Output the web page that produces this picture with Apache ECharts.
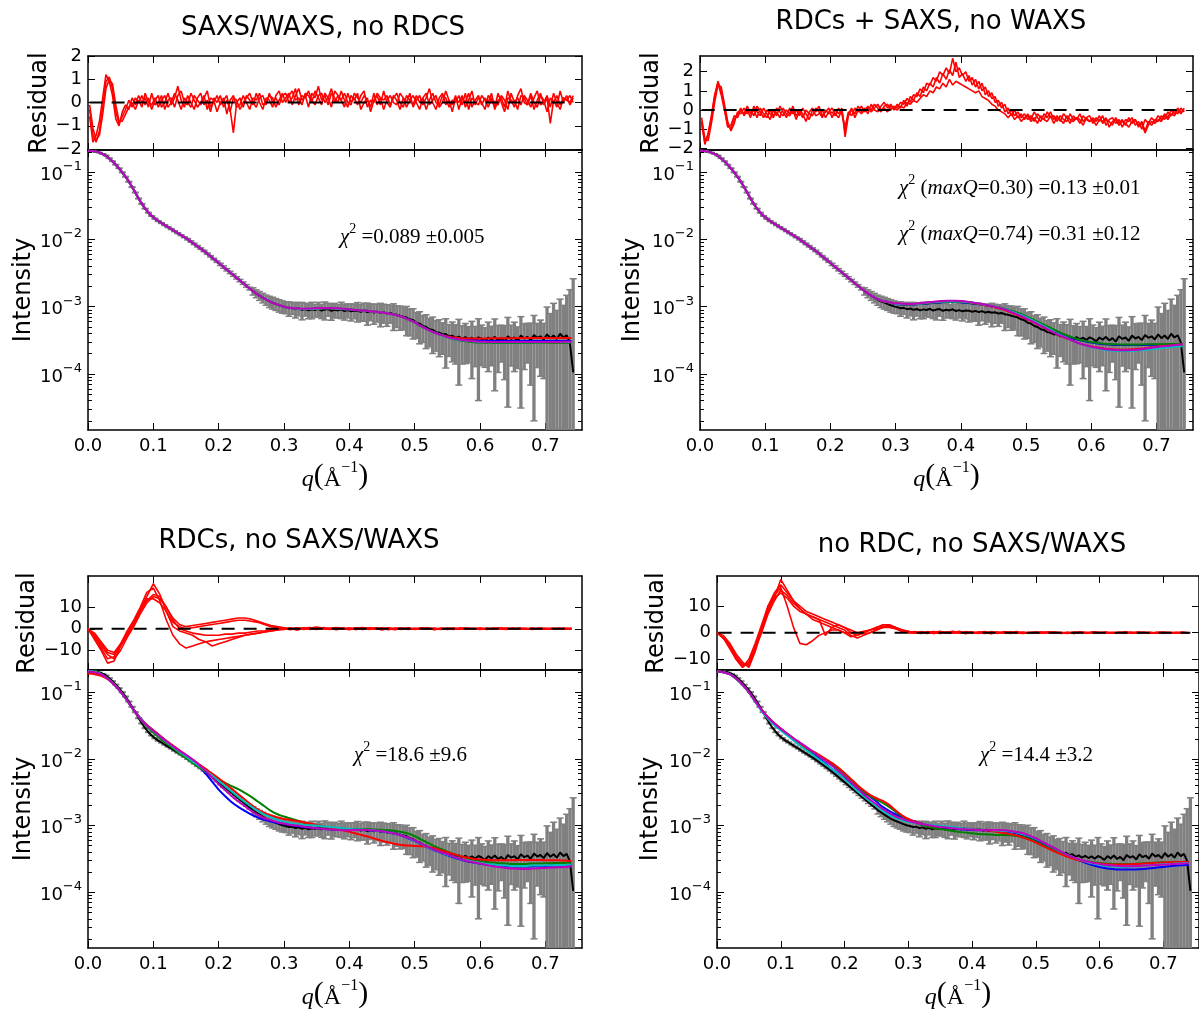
<!DOCTYPE html>
<html>
<head>
<meta charset="utf-8">
<title>SAXS/WAXS fits and residuals</title>
<script src="https://cdn.jsdelivr.net/npm/echarts@6.0.0/dist/echarts.min.js"></script>
<style>
  html, body { margin: 0; padding: 0; background: #ffffff; }
  #chart { width: 1199px; height: 1011px; }
</style>
</head>
<body>
<div id="chart"></div>
<script>
// ------------------------------------------------------------------
// Data
// ------------------------------------------------------------------

// Sampling grids of the scattering vector q (1/Å)
const qExp = Array.from({ length: 149 }, (_, i) => +(0.0025 + 0.005 * i).toFixed(4)); // measured points
const qFit = Array.from({ length: 75 }, (_, i) => +(0.01 * i).toFixed(2));            // back-calculated curves

// Measured intensity I(q)
const expIntensity = [
  0.209, 0.207, 0.202, 0.197, 0.188, 0.178, 0.162, 0.146, 0.130, 0.115,
  0.100, 0.0861, 0.0724, 0.0603, 0.0501, 0.0407, 0.0339, 0.0288, 0.0251, 0.0224,
  0.0204, 0.0188, 0.0176, 0.0164, 0.0153, 0.0143, 0.0133, 0.0124, 0.0116, 0.0108,
  0.0101, 0.00933, 0.00861, 0.00794, 0.00733, 0.00676, 0.00617, 0.00562, 0.00513, 0.00468,
  0.00427, 0.00389, 0.00355, 0.00324, 0.00295, 0.00269, 0.00245, 0.00224, 0.00204, 0.00186,
  0.00170, 0.00157, 0.00146, 0.00136, 0.00127, 0.00120, 0.00115, 0.00110, 0.00105, 0.00101,
  0.000985, 0.000950, 0.000962, 0.000918, 0.000940, 0.000897, 0.000925, 0.000881, 0.000912, 0.000894,
  0.000930, 0.000876, 0.000905, 0.000921, 0.000868, 0.000899, 0.000880, 0.000914, 0.000862, 0.000889,
  0.000853, 0.000880, 0.000871, 0.000842, 0.000866, 0.000830, 0.000858, 0.000818, 0.000840, 0.000812,
  0.000826, 0.000790, 0.000808, 0.000772, 0.000760, 0.000735, 0.000712, 0.000690, 0.000648, 0.000630,
  0.000578, 0.000560, 0.000515, 0.000498, 0.000462, 0.000451, 0.000418, 0.000410, 0.000386, 0.000392,
  0.000362, 0.000371, 0.000340, 0.000358, 0.000330, 0.000352, 0.000326, 0.000345, 0.000318, 0.000350,
  0.000332, 0.000305, 0.000348, 0.000322, 0.000356, 0.000315, 0.000340, 0.000302, 0.000362, 0.000331,
  0.000348, 0.000310, 0.000371, 0.000336, 0.000355, 0.000318, 0.000380, 0.000344, 0.000362, 0.000325,
  0.000388, 0.000340, 0.000372, 0.000330, 0.000395, 0.000348, 0.000376, 0.000290, 0.000105
];

// Experimental uncertainty sigma(q)
const expError = [
  0.00105, 0.00104, 0.00101, 0.00099, 0.00094, 0.00089, 0.00081, 0.00073, 0.00065, 0.00058,
  0.00100, 0.00086, 0.00072, 0.00060, 0.00050, 0.00041, 0.00034, 0.00029, 0.00025, 0.00022,
  0.00031, 0.00028, 0.00026, 0.00025, 0.00023, 0.00021, 0.00020, 0.00019, 0.00017, 0.00016,
  0.00025, 0.00023, 0.00022, 0.00020, 0.00018, 0.00017, 0.00015, 0.00014, 0.00013, 0.00012,
  0.00017, 0.00016, 0.00014, 0.00013, 0.00012, 0.00011, 0.00010, 0.000095, 0.000090, 0.000085,
  0.00021, 0.00021, 0.00022, 0.00022, 0.00022, 0.00023, 0.00023, 0.00022, 0.00022, 0.00021,
  0.00020, 0.00023, 0.00019, 0.00024, 0.00021, 0.00026, 0.00020, 0.00022, 0.00025, 0.00019,
  0.00023, 0.00021, 0.00027, 0.00020, 0.00024, 0.00022, 0.00019, 0.00025, 0.00023, 0.00021,
  0.00024, 0.00022, 0.00028, 0.00023, 0.00026, 0.00030, 0.00024, 0.00027, 0.00025, 0.00031,
  0.00026, 0.00028, 0.00024, 0.00033, 0.00027, 0.00029, 0.00026, 0.00032, 0.00028, 0.00030,
  0.00024, 0.00028, 0.00022, 0.00026, 0.00021, 0.00025, 0.00020, 0.00023, 0.00019, 0.00027,
  0.00018, 0.00022, 0.00020, 0.00029, 0.00019, 0.00021, 0.00018, 0.00026, 0.00019, 0.00031,
  0.00020, 0.00018, 0.00024, 0.00019, 0.00030, 0.00021, 0.00019, 0.00022, 0.00033, 0.00020,
  0.00024, 0.00019, 0.00034, 0.00022, 0.00021, 0.00025, 0.00036, 0.00022, 0.00027, 0.00024,
  0.00060, 0.00045, 0.00075, 0.00055, 0.00090, 0.00070, 0.00110, 0.00150, 0.00250
];

// Back-calculated curves, stored as log10 I(q) on the qFit grid.
// Panel A: SAXS/WAXS, no RDCs
const fitA_b = [
  -0.678,-0.686,-0.714,-0.775,-0.860,-0.970,-1.100,-1.260,-1.430,-1.570,
  -1.670,-1.740,-1.800,-1.860,-1.920,-1.980,-2.050,-2.120,-2.190,-2.270,
  -2.350,-2.430,-2.510,-2.590,-2.670,-2.750,-2.820,-2.880,-2.930,-2.970,
  -3.000,-3.020,-3.030,-3.035,-3.035,-3.030,-3.025,-3.025,-3.030,-3.035,
  -3.040,-3.050,-3.055,-3.065,-3.075,-3.085,-3.100,-3.120,-3.150,-3.190,
  -3.235,-3.290,-3.340,-3.385,-3.420,-3.445,-3.468,-3.482,-3.492,-3.500,
  -3.505,-3.508,-3.510,-3.511,-3.512,-3.512,-3.512,-3.512,-3.511,-3.511,
  -3.510,-3.510,-3.510,-3.509,-3.509
];
const fitA_g = [
  -0.678,-0.686,-0.714,-0.775,-0.860,-0.970,-1.100,-1.260,-1.430,-1.570,
  -1.670,-1.740,-1.800,-1.860,-1.920,-1.980,-2.050,-2.120,-2.190,-2.270,
  -2.350,-2.430,-2.510,-2.590,-2.670,-2.750,-2.820,-2.880,-2.930,-2.970,
  -3.000,-3.020,-3.030,-3.035,-3.035,-3.030,-3.025,-3.025,-3.030,-3.035,
  -3.040,-3.050,-3.055,-3.065,-3.075,-3.085,-3.100,-3.120,-3.150,-3.190,
  -3.235,-3.290,-3.340,-3.385,-3.420,-3.456,-3.484,-3.503,-3.518,-3.528,
  -3.534,-3.537,-3.539,-3.540,-3.540,-3.540,-3.540,-3.539,-3.539,-3.538,
  -3.538,-3.537,-3.537,-3.536,-3.535
];
const fitA_r = [
  -0.678,-0.686,-0.714,-0.775,-0.860,-0.970,-1.100,-1.260,-1.430,-1.570,
  -1.670,-1.740,-1.800,-1.860,-1.920,-1.980,-2.050,-2.120,-2.190,-2.270,
  -2.350,-2.430,-2.510,-2.590,-2.670,-2.750,-2.820,-2.880,-2.930,-2.970,
  -3.000,-3.020,-3.030,-3.035,-3.035,-3.030,-3.025,-3.025,-3.030,-3.035,
  -3.040,-3.050,-3.055,-3.065,-3.075,-3.085,-3.100,-3.120,-3.150,-3.190,
  -3.235,-3.290,-3.340,-3.385,-3.420,-3.441,-3.460,-3.468,-3.472,-3.474,
  -3.473,-3.472,-3.470,-3.469,-3.468,-3.468,-3.467,-3.467,-3.467,-3.466,
  -3.466,-3.466,-3.465,-3.465,-3.465
];
const fitA_c = [
  -0.678,-0.686,-0.714,-0.775,-0.860,-0.970,-1.100,-1.260,-1.430,-1.570,
  -1.670,-1.740,-1.800,-1.860,-1.920,-1.980,-2.050,-2.120,-2.190,-2.270,
  -2.350,-2.430,-2.510,-2.590,-2.670,-2.750,-2.820,-2.880,-2.930,-2.970,
  -3.000,-3.020,-3.030,-3.035,-3.035,-3.030,-3.025,-3.025,-3.030,-3.035,
  -3.040,-3.050,-3.055,-3.065,-3.075,-3.085,-3.100,-3.120,-3.150,-3.190,
  -3.235,-3.290,-3.340,-3.385,-3.420,-3.454,-3.480,-3.497,-3.509,-3.518,
  -3.524,-3.527,-3.529,-3.530,-3.530,-3.530,-3.530,-3.529,-3.529,-3.528,
  -3.528,-3.527,-3.527,-3.526,-3.526
];
const fitA_m = [
  -0.678,-0.686,-0.714,-0.775,-0.860,-0.970,-1.100,-1.260,-1.430,-1.570,
  -1.670,-1.740,-1.800,-1.860,-1.920,-1.980,-2.050,-2.120,-2.190,-2.270,
  -2.350,-2.430,-2.510,-2.590,-2.670,-2.750,-2.820,-2.880,-2.930,-2.970,
  -3.000,-3.020,-3.028,-3.030,-3.028,-3.022,-3.018,-3.020,-3.025,-3.032,
  -3.040,-3.050,-3.055,-3.065,-3.075,-3.085,-3.100,-3.120,-3.150,-3.190,
  -3.235,-3.290,-3.340,-3.385,-3.420,-3.450,-3.475,-3.492,-3.505,-3.515,
  -3.521,-3.524,-3.526,-3.527,-3.527,-3.527,-3.527,-3.526,-3.526,-3.525,
  -3.525,-3.524,-3.524,-3.523,-3.523
];

// Panel B: RDCs + SAXS, no WAXS
const fitB_b = [
  -0.678,-0.686,-0.714,-0.775,-0.860,-0.970,-1.100,-1.260,-1.430,-1.570,
  -1.670,-1.740,-1.800,-1.860,-1.920,-1.980,-2.050,-2.120,-2.190,-2.270,
  -2.350,-2.430,-2.510,-2.590,-2.670,-2.750,-2.820,-2.875,-2.915,-2.935,
  -2.959,-2.967,-2.971,-2.967,-2.959,-2.951,-2.943,-2.936,-2.932,-2.932,
  -2.936,-2.943,-2.955,-2.967,-2.983,-3.000,-3.020,-3.046,-3.081,-3.119,
  -3.161,-3.204,-3.250,-3.297,-3.342,-3.387,-3.426,-3.462,-3.492,-3.516,
  -3.535,-3.548,-3.559,-3.565,-3.570,-3.572,-3.572,-3.572,-3.570,-3.569,
  -3.567,-3.565,-3.564,-3.562,-3.561
];
const fitB_g = [
  -0.678,-0.686,-0.714,-0.775,-0.860,-0.970,-1.100,-1.260,-1.430,-1.570,
  -1.670,-1.740,-1.800,-1.860,-1.920,-1.980,-2.050,-2.120,-2.190,-2.270,
  -2.350,-2.430,-2.510,-2.590,-2.670,-2.750,-2.820,-2.875,-2.915,-2.935,
  -2.955,-2.963,-2.967,-2.963,-2.955,-2.947,-2.939,-2.932,-2.928,-2.928,
  -2.932,-2.939,-2.951,-2.963,-2.979,-2.996,-3.014,-3.036,-3.067,-3.102,
  -3.143,-3.187,-3.233,-3.280,-3.328,-3.375,-3.417,-3.453,-3.484,-3.509,
  -3.527,-3.541,-3.551,-3.558,-3.561,-3.562,-3.562,-3.562,-3.561,-3.559,
  -3.558,-3.558,-3.556,-3.556,-3.554
];
const fitB_r = [
  -0.678,-0.686,-0.714,-0.775,-0.860,-0.970,-1.100,-1.260,-1.430,-1.570,
  -1.670,-1.740,-1.800,-1.860,-1.920,-1.980,-2.050,-2.120,-2.190,-2.270,
  -2.350,-2.430,-2.510,-2.590,-2.670,-2.750,-2.820,-2.875,-2.915,-2.935,
  -2.951,-2.959,-2.963,-2.959,-2.947,-2.939,-2.928,-2.921,-2.917,-2.917,
  -2.921,-2.932,-2.947,-2.963,-2.983,-3.004,-3.029,-3.060,-3.098,-3.138,
  -3.182,-3.226,-3.276,-3.324,-3.373,-3.423,-3.462,-3.502,-3.541,-3.569,
  -3.592,-3.609,-3.623,-3.633,-3.638,-3.640,-3.636,-3.631,-3.622,-3.609,
  -3.595,-3.585,-3.577,-3.569,-3.562
];
const fitB_c = [
  -0.678,-0.686,-0.714,-0.775,-0.860,-0.970,-1.100,-1.260,-1.430,-1.570,
  -1.670,-1.740,-1.800,-1.860,-1.920,-1.980,-2.050,-2.120,-2.190,-2.270,
  -2.350,-2.430,-2.510,-2.590,-2.670,-2.750,-2.820,-2.875,-2.915,-2.935,
  -2.955,-2.959,-2.963,-2.959,-2.951,-2.939,-2.932,-2.924,-2.921,-2.921,
  -2.924,-2.932,-2.943,-2.959,-2.975,-2.996,-3.018,-3.043,-3.078,-3.116,
  -3.159,-3.204,-3.254,-3.305,-3.357,-3.409,-3.453,-3.498,-3.541,-3.575,
  -3.602,-3.623,-3.640,-3.652,-3.658,-3.660,-3.658,-3.654,-3.646,-3.636,
  -3.625,-3.614,-3.604,-3.595,-3.588
];
const fitB_m = [
  -0.678,-0.686,-0.714,-0.775,-0.860,-0.970,-1.100,-1.260,-1.430,-1.570,
  -1.670,-1.740,-1.800,-1.860,-1.920,-1.980,-2.050,-2.120,-2.190,-2.270,
  -2.350,-2.430,-2.510,-2.590,-2.670,-2.750,-2.820,-2.875,-2.915,-2.935,
  -2.950,-2.955,-2.960,-2.955,-2.945,-2.935,-2.925,-2.915,-2.910,-2.910,
  -2.915,-2.925,-2.940,-2.955,-2.975,-2.995,-3.020,-3.050,-3.090,-3.130,
  -3.175,-3.220,-3.270,-3.320,-3.370,-3.420,-3.460,-3.500,-3.540,-3.570,
  -3.595,-3.615,-3.630,-3.640,-3.645,-3.650,-3.645,-3.640,-3.630,-3.615,
  -3.600,-3.590,-3.580,-3.570,-3.560
];

// Panel C: RDCs, no SAXS/WAXS
const fitC_b = [
  -0.690,-0.700,-0.730,-0.795,-0.885,-0.995,-1.125,-1.265,-1.385,-1.490,
  -1.575,-1.655,-1.735,-1.810,-1.880,-1.950,-2.030,-2.120,-2.220,-2.340,
  -2.460,-2.560,-2.650,-2.720,-2.780,-2.835,-2.880,-2.915,-2.940,-2.960,
  -2.975,-2.990,-3.005,-3.020,-3.030,-3.040,-3.050,-3.055,-3.060,-3.065,
  -3.065,-3.065,-3.065,-3.070,-3.080,-3.090,-3.105,-3.125,-3.155,-3.190,
  -3.230,-3.280,-3.330,-3.370,-3.410,-3.445,-3.480,-3.510,-3.535,-3.555,
  -3.570,-3.585,-3.595,-3.605,-3.610,-3.615,-3.615,-3.615,-3.610,-3.610,
  -3.605,-3.600,-3.600,-3.595,-3.590
];
const fitC_g = [
  -0.680,-0.690,-0.725,-0.790,-0.880,-0.990,-1.125,-1.275,-1.405,-1.515,
  -1.610,-1.690,-1.770,-1.840,-1.920,-1.990,-2.060,-2.130,-2.190,-2.250,
  -2.310,-2.360,-2.410,-2.455,-2.510,-2.570,-2.640,-2.710,-2.780,-2.830,
  -2.865,-2.895,-2.925,-2.955,-2.980,-3.000,-3.020,-3.035,-3.050,-3.055,
  -3.060,-3.060,-3.055,-3.055,-3.060,-3.065,-3.070,-3.080,-3.095,-3.120,
  -3.160,-3.210,-3.260,-3.310,-3.350,-3.390,-3.430,-3.460,-3.490,-3.510,
  -3.530,-3.545,-3.555,-3.565,-3.570,-3.575,-3.575,-3.575,-3.570,-3.570,
  -3.565,-3.565,-3.560,-3.560,-3.555
];
const fitC_r = [
  -0.720,-0.730,-0.755,-0.805,-0.885,-0.995,-1.130,-1.270,-1.390,-1.490,
  -1.570,-1.650,-1.730,-1.800,-1.870,-1.940,-2.010,-2.080,-2.150,-2.220,
  -2.290,-2.370,-2.450,-2.530,-2.610,-2.690,-2.760,-2.810,-2.850,-2.880,
  -2.900,-2.915,-2.930,-2.950,-2.970,-2.990,-3.010,-3.030,-3.050,-3.070,
  -3.095,-3.120,-3.145,-3.170,-3.200,-3.230,-3.255,-3.275,-3.290,-3.300,
  -3.305,-3.310,-3.320,-3.340,-3.370,-3.400,-3.430,-3.460,-3.480,-3.500,
  -3.510,-3.515,-3.520,-3.520,-3.520,-3.520,-3.515,-3.515,-3.515,-3.515,
  -3.520,-3.520,-3.520,-3.525,-3.530
];
const fitC_c = [
  -0.685,-0.695,-0.730,-0.795,-0.885,-0.995,-1.130,-1.275,-1.395,-1.500,
  -1.585,-1.665,-1.745,-1.820,-1.895,-1.965,-2.040,-2.110,-2.180,-2.250,
  -2.330,-2.410,-2.490,-2.570,-2.645,-2.715,-2.780,-2.835,-2.875,-2.915,
  -2.945,-2.965,-2.980,-2.990,-2.995,-3.000,-3.010,-3.020,-3.030,-3.040,
  -3.050,-3.055,-3.060,-3.065,-3.075,-3.085,-3.100,-3.120,-3.150,-3.185,
  -3.225,-3.275,-3.325,-3.365,-3.405,-3.440,-3.470,-3.500,-3.525,-3.545,
  -3.560,-3.575,-3.585,-3.595,-3.600,-3.605,-3.605,-3.605,-3.600,-3.600,
  -3.595,-3.595,-3.590,-3.590,-3.585
];
const fitC_m = [
  -0.690,-0.700,-0.730,-0.795,-0.885,-0.995,-1.125,-1.270,-1.400,-1.500,
  -1.580,-1.660,-1.740,-1.810,-1.880,-1.940,-2.010,-2.090,-2.180,-2.280,
  -2.380,-2.470,-2.560,-2.640,-2.710,-2.780,-2.840,-2.890,-2.920,-2.950,
  -2.970,-2.990,-3.000,-3.015,-3.030,-3.040,-3.050,-3.060,-3.065,-3.070,
  -3.070,-3.065,-3.065,-3.070,-3.075,-3.085,-3.100,-3.120,-3.150,-3.180,
  -3.220,-3.270,-3.320,-3.360,-3.400,-3.430,-3.470,-3.500,-3.530,-3.550,
  -3.570,-3.590,-3.610,-3.620,-3.635,-3.645,-3.650,-3.650,-3.645,-3.640,
  -3.635,-3.630,-3.625,-3.620,-3.610
];

// Panel D: no RDC, no SAXS/WAXS
const fitD_b = [
  -0.690,-0.700,-0.730,-0.795,-0.885,-0.995,-1.130,-1.265,-1.380,-1.470,
  -1.550,-1.625,-1.700,-1.775,-1.845,-1.915,-1.990,-2.070,-2.150,-2.220,
  -2.290,-2.365,-2.440,-2.510,-2.565,-2.640,-2.720,-2.780,-2.830,-2.870,
  -2.905,-2.940,-2.970,-2.990,-3.005,-3.020,-3.035,-3.045,-3.055,-3.060,
  -3.065,-3.070,-3.070,-3.075,-3.080,-3.085,-3.095,-3.110,-3.135,-3.165,
  -3.205,-3.250,-3.300,-3.350,-3.400,-3.445,-3.490,-3.530,-3.565,-3.595,
  -3.620,-3.640,-3.650,-3.660,-3.660,-3.660,-3.655,-3.650,-3.640,-3.630,
  -3.620,-3.610,-3.600,-3.595,-3.590
];
const fitD_g = [
  -0.690,-0.700,-0.730,-0.800,-0.890,-1.000,-1.140,-1.275,-1.385,-1.475,
  -1.555,-1.630,-1.705,-1.775,-1.840,-1.900,-1.960,-2.020,-2.080,-2.150,
  -2.230,-2.320,-2.410,-2.490,-2.560,-2.610,-2.660,-2.720,-2.790,-2.855,
  -2.910,-2.955,-2.990,-3.015,-3.035,-3.050,-3.065,-3.080,-3.095,-3.105,
  -3.115,-3.125,-3.130,-3.135,-3.140,-3.140,-3.145,-3.155,-3.170,-3.200,
  -3.240,-3.285,-3.330,-3.375,-3.415,-3.455,-3.490,-3.515,-3.535,-3.550,
  -3.560,-3.570,-3.575,-3.575,-3.575,-3.575,-3.570,-3.565,-3.560,-3.555,
  -3.550,-3.550,-3.545,-3.545,-3.545
];
const fitD_r = [
  -0.690,-0.700,-0.730,-0.800,-0.890,-1.000,-1.135,-1.265,-1.375,-1.465,
  -1.545,-1.620,-1.695,-1.770,-1.835,-1.885,-1.940,-2.000,-2.060,-2.130,
  -2.210,-2.300,-2.390,-2.470,-2.540,-2.590,-2.630,-2.690,-2.770,-2.845,
  -2.900,-2.940,-2.970,-2.990,-3.005,-3.015,-3.025,-3.035,-3.040,-3.045,
  -3.050,-3.060,-3.070,-3.080,-3.095,-3.110,-3.130,-3.150,-3.180,-3.215,
  -3.255,-3.300,-3.345,-3.390,-3.430,-3.470,-3.500,-3.525,-3.545,-3.560,
  -3.570,-3.580,-3.585,-3.585,-3.585,-3.580,-3.575,-3.570,-3.565,-3.560,
  -3.555,-3.550,-3.550,-3.545,-3.545
];
const fitD_c = [
  -0.690,-0.700,-0.730,-0.800,-0.890,-1.005,-1.145,-1.285,-1.400,-1.495,
  -1.575,-1.650,-1.725,-1.800,-1.870,-1.940,-2.010,-2.080,-2.150,-2.220,
  -2.300,-2.390,-2.480,-2.560,-2.635,-2.710,-2.780,-2.840,-2.885,-2.920,
  -2.945,-2.960,-2.975,-2.985,-2.995,-3.005,-3.015,-3.025,-3.035,-3.045,
  -3.055,-3.060,-3.065,-3.070,-3.075,-3.080,-3.090,-3.105,-3.130,-3.160,
  -3.200,-3.245,-3.295,-3.345,-3.395,-3.440,-3.480,-3.515,-3.545,-3.570,
  -3.590,-3.605,-3.615,-3.620,-3.620,-3.615,-3.610,-3.600,-3.595,-3.585,
  -3.580,-3.575,-3.570,-3.565,-3.560
];
const fitD_m = [
  -0.690,-0.700,-0.730,-0.795,-0.885,-1.000,-1.135,-1.270,-1.380,-1.470,
  -1.550,-1.620,-1.690,-1.755,-1.820,-1.890,-1.960,-2.030,-2.100,-2.180,
  -2.260,-2.350,-2.440,-2.530,-2.610,-2.680,-2.750,-2.810,-2.860,-2.900,
  -2.930,-2.955,-2.975,-2.990,-3.005,-3.020,-3.030,-3.040,-3.050,-3.055,
  -3.060,-3.065,-3.065,-3.065,-3.065,-3.070,-3.080,-3.095,-3.115,-3.150,
  -3.190,-3.240,-3.290,-3.340,-3.390,-3.440,-3.480,-3.510,-3.540,-3.560,
  -3.575,-3.590,-3.600,-3.605,-3.610,-3.610,-3.605,-3.600,-3.595,-3.590,
  -3.585,-3.580,-3.575,-3.570,-3.565
];

// Normalised residuals. Panels A and B on the qExp grid, C and D on the qFit grid.
const resA1 = [
  -0.3,-1.4,-1.7,-1.2,-0.2,0.9,1.1,0.6,-0.4,-0.9,
  -0.6,-0.3,0.1,-0.2,0.2,0.0,0.3,-0.1,0.2,-0.3,
  0.1,0.3,-0.2,0.0,0.4,-0.1,0.2,0.7,0.1,-0.2,
  0.3,0.0,-0.3,0.2,0.4,-0.1,0.1,-0.4,0.2,0.0,
  0.3,-0.2,0.1,-0.3,-1.3,0.0,0.2,-0.2,0.3,0.1,
  -0.1,0.4,0.0,-0.3,0.2,0.1,-0.2,0.3,0.5,0.0,
  0.2,0.4,-0.1,0.3,0.6,0.1,0.3,-0.2,0.4,0.2,
  0.7,0.1,0.3,-0.1,0.4,0.2,0.0,0.5,0.1,-0.2,
  0.3,0.1,0.4,-0.3,0.0,0.2,-0.4,0.1,0.3,-0.1,
  0.5,0.0,-0.2,0.3,0.1,-0.3,0.2,0.0,0.4,-0.2,
  0.1,0.3,-0.1,0.2,0.6,0.0,-0.3,0.2,0.4,-0.1,
  0.1,-0.4,0.2,0.0,0.3,-0.2,0.1,0.5,-0.1,0.2,
  0.0,-0.3,0.3,0.1,-0.2,0.4,0.0,-0.4,0.2,0.1,
  -0.2,0.3,0.6,0.0,-0.1,0.3,-0.3,0.1,0.4,-0.1,
  0.2,-0.9,0.1,-0.2,0.5,0.0,0.3,-0.1,0.2
];
const resA2 = [
  -0.6,-1.7,-1.4,-0.8,0.2,1.2,0.9,0.3,-0.7,-1.0,
  -0.4,-0.1,-0.3,0.2,-0.1,0.3,0.0,0.2,-0.2,0.4,
  -0.1,0.0,0.3,-0.3,0.1,0.2,-0.2,0.3,0.5,0.0,
  -0.1,0.4,0.1,-0.2,0.0,0.3,-0.3,0.2,0.1,-0.4,
  0.0,0.2,-0.5,0.1,0.3,-0.2,-0.1,0.3,0.0,-0.3,
  0.2,0.1,0.4,-0.1,0.0,0.3,0.2,-0.2,0.1,0.4,
  0.0,0.3,0.5,0.1,0.2,-0.1,0.4,0.3,0.0,0.5,
  0.2,-0.1,0.4,0.2,0.6,0.0,0.3,0.1,-0.2,0.4,
  0.0,0.2,-0.1,0.3,0.5,-0.2,0.1,0.0,0.4,0.2,
  -0.3,0.1,0.3,0.0,-0.1,0.4,0.2,-0.2,0.1,0.3,
  0.0,-0.3,0.2,0.4,-0.1,0.1,0.3,-0.2,0.0,0.5,
  0.1,-0.1,0.3,-0.3,0.2,0.0,0.4,-0.2,0.1,0.3,
  -0.1,0.2,0.0,0.4,-0.3,0.1,0.2,-0.2,0.5,0.0,
  0.1,-0.3,0.3,0.2,-0.1,0.4,0.0,-0.2,0.3,0.1,
  -0.4,0.2,0.0,0.3,-0.1,0.2,0.1,0.0,0.3
];
const resA3 = [
  -0.1,-1.1,-1.6,-1.4,-0.5,0.6,1.0,0.8,-0.1,-0.8,
  -0.8,-0.5,-0.2,0.0,-0.3,0.1,-0.2,0.4,0.0,-0.1,
  0.2,-0.2,0.1,0.3,-0.2,0.0,0.4,0.1,-0.3,0.2,
  0.0,-0.2,0.3,0.1,-0.1,0.2,0.5,-0.2,0.0,0.3,
  -0.1,0.1,0.3,-0.4,0.2,0.1,-0.3,0.0,0.2,0.4,
  0.0,-0.2,0.2,0.3,-0.1,0.4,0.0,0.2,-0.1,0.3,
  0.4,0.0,0.2,0.6,-0.1,0.3,0.2,0.5,0.1,-0.1,
  0.3,0.4,0.0,0.2,-0.2,0.5,0.3,0.1,0.4,0.0,
  -0.1,0.4,0.2,0.0,0.3,0.1,-0.2,0.4,-0.1,0.2,
  0.1,0.3,-0.1,0.2,0.4,0.0,-0.2,0.3,0.1,-0.1,
  0.3,0.0,0.2,-0.3,0.1,0.4,0.0,-0.1,0.3,0.2,
  -0.2,0.1,0.0,0.3,-0.1,0.4,-0.3,0.2,0.0,-0.1,
  0.3,0.1,-0.2,0.2,0.0,-0.1,0.3,0.1,-0.3,0.4,
  0.0,0.2,-0.1,0.3,0.1,-0.2,0.2,0.5,-0.1,0.0,
  0.3,-0.2,0.4,0.0,-0.3,0.2,0.1,0.3,0.0
];
const resB1 = [
  -0.6,-1.7,-1.3,-0.4,0.7,1.5,1.0,0.1,-0.8,-1.0,
  -0.5,-0.2,0.1,-0.3,0.0,-0.4,0.2,-0.1,-0.3,0.1,
  -0.2,-0.5,0.0,-0.3,0.2,-0.1,-0.4,0.1,-0.2,0.0,
  -0.3,0.1,-0.2,-0.5,0.0,-0.1,0.2,-0.3,-0.1,0.1,
  -0.4,0.0,-0.2,0.1,-1.4,-0.3,0.0,-0.2,0.2,-0.1,
  0.1,-0.2,0.3,0.0,-0.1,0.2,0.4,0.1,0.3,0.0,
  0.3,0.1,0.5,0.2,0.7,0.5,0.9,0.7,1.2,1.0,
  1.4,1.2,1.7,1.4,1.9,1.6,2.1,1.8,2.5,1.7,
  1.9,1.5,1.8,1.3,1.6,1.1,1.4,0.8,1.0,0.6,
  0.7,0.2,0.4,-0.1,0.1,-0.3,0.0,-0.4,-0.2,-0.5,
  -0.2,-0.5,-0.1,-0.4,-0.6,-0.2,-0.4,-0.1,-0.5,-0.3,
  -0.6,-0.2,-0.4,-0.7,-0.3,-0.5,-0.2,-0.6,-0.4,-0.3,
  -0.7,-0.4,-0.6,-0.3,-0.8,-0.5,-0.4,-0.7,-0.5,-0.9,
  -0.5,-0.6,-0.4,-0.8,-0.6,-1.0,-0.5,-0.7,-0.4,-0.6,
  -0.3,-0.5,-0.2,-0.4,0.0,-0.2,0.1,-0.1,0.0
];
const resB2 = [
  -0.4,-1.5,-1.6,-0.7,0.4,1.3,1.2,0.3,-0.6,-1.1,
  -0.7,-0.1,-0.2,0.1,-0.2,0.0,-0.3,0.2,-0.1,-0.4,
  0.0,-0.2,-0.4,0.1,-0.1,-0.3,0.0,-0.2,0.2,-0.3,
  -0.1,-0.4,0.0,-0.2,-0.3,0.1,-0.1,-0.4,0.0,-0.2,
  -0.1,-0.3,0.1,-0.2,-0.9,-0.1,-0.3,0.1,-0.1,0.2,
  -0.1,0.1,0.0,0.3,0.1,-0.1,0.2,0.3,0.0,0.2,
  0.1,0.4,0.3,0.6,0.4,0.8,0.7,1.1,0.9,1.4,
  1.3,1.7,1.5,2.0,1.8,2.2,1.9,2.7,2.0,2.2,
  1.8,2.0,1.5,1.7,1.2,1.5,1.0,1.2,0.7,0.9,
  0.4,0.5,0.1,0.3,-0.2,0.0,-0.3,-0.1,-0.4,-0.2,
  -0.5,-0.3,-0.6,-0.2,-0.4,-0.5,-0.1,-0.4,-0.3,-0.6,
  -0.3,-0.5,-0.6,-0.2,-0.5,-0.4,-0.7,-0.3,-0.5,-0.6,
  -0.4,-0.6,-0.3,-0.7,-0.5,-0.6,-0.8,-0.4,-0.7,-0.5,
  -0.8,-0.4,-0.7,-0.5,-0.9,-0.6,-1.1,-0.6,-0.8,-0.5,
  -0.6,-0.3,-0.5,-0.1,-0.3,0.0,-0.2,0.1,-0.1
];
const resB3 = [
  -0.7,-1.8,-1.2,-0.3,0.8,1.4,0.8,0.0,-0.9,-0.8,
  -0.3,-0.4,0.0,-0.2,0.2,-0.2,0.0,-0.4,0.1,-0.2,
  -0.4,0.0,-0.3,-0.1,-0.4,0.1,-0.2,-0.3,0.0,-0.5,
  0.0,-0.2,-0.6,-0.1,0.1,-0.3,-0.2,0.0,-0.4,-0.1,
  0.1,-0.2,-0.4,0.0,-1.1,-0.2,0.1,-0.4,0.0,-0.2,
  0.0,0.2,-0.1,0.1,0.3,0.0,0.1,-0.1,0.2,0.1,
  0.0,0.2,0.1,0.4,0.3,0.5,0.4,0.6,0.8,0.7,
  1.0,0.9,1.2,1.1,1.4,1.2,1.6,1.3,1.5,1.4,
  1.3,1.2,1.1,1.0,0.9,1.0,0.7,0.6,0.5,0.3,
  0.2,0.0,-0.1,-0.2,-0.4,-0.2,-0.5,-0.3,-0.6,-0.4,
  -0.3,-0.6,-0.4,-0.7,-0.3,-0.5,-0.6,-0.3,-0.7,-0.4,
  -0.5,-0.7,-0.3,-0.5,-0.6,-0.4,-0.5,-0.8,-0.4,-0.6,
  -0.5,-0.8,-0.5,-0.6,-0.4,-0.9,-0.6,-0.5,-0.8,-0.6,
  -0.7,-0.9,-0.6,-0.5,-0.8,-0.7,-1.2,-0.8,-0.6,-0.7,
  -0.5,-0.6,-0.3,-0.5,-0.2,-0.3,0.0,-0.2,0.1
];
const resC1 = [
  0,-4,-9,-14,-13,-7,-1,4,10,17,
  19,13,4,-3,-7,-9,-8,-7,-6,-5.5,
  -5,-4.5,-4,-3.5,-3,-2.5,-2,-1.5,-1,-0.5,
  -0.3,0.2,-0.4,0.3,-0.2,0.5,0.1,-0.3,0.4,0,
  -0.4,0.3,0.6,-0.2,0.1,-0.5,0.3,0,-0.3,0.4,
  0.1,-0.2,0.3,-0.4,0.2,0,-0.3,0.3,0.1,-0.2,
  0.2,-0.1,0.3,0,-0.3,0.2,0.1,-0.2,0.3,0,
  -0.2,0.2,0.1,-0.1,0.2
];
const resC2 = [
  0,-5,-10,-16,-15,-8,-2,3,9,15,
  21,16,8,1,-1,-2,-3,-5,-6,-8,
  -7,-6,-5,-4,-3,-2.5,-2,-1.5,-1,-0.5,
  0,-0.4,0.3,0.1,-0.3,0.4,-0.2,0.2,0.6,-0.1,
  0.3,-0.3,0.1,0.4,-0.2,0.2,-0.4,0.1,0.3,-0.1,
  0,0.3,-0.2,0.1,-0.3,0.4,0,-0.2,0.2,0.1,
  -0.3,0.2,0,0.3,-0.1,-0.2,0.2,0.1,-0.3,0.2,
  0,-0.2,0.3,0.1,-0.1
];
const resC3 = [
  0,-3,-7,-11,-12,-8,-3,2,8,13,
  16,15,10,4,0,-1,-2,-2.5,-3,-3,
  -3,-2.5,-2.5,-2,-2,-1.5,-1,-1,-0.5,0,
  0.2,0,-0.5,0.3,0.6,-0.2,0.4,0.1,-0.4,0.3,
  0,-0.3,0.2,0.5,-0.1,0.3,0,-0.4,0.2,0.1,
  -0.2,0.3,0.1,-0.3,0.2,0,0.3,-0.1,-0.2,0.2,
  0.1,-0.3,0.2,0,0.3,-0.2,0.1,0.2,-0.1,0,
  0.2,-0.1,0,0.2,-0.1
];
const resC4 = [
  0,-2,-6,-10,-11,-7,-2,3,9,14,
  14,12,8,3,1,0,0.5,1,1.5,2,
  2.5,3,3.5,4,4,3.5,3,2,1,0.5,
  0,0.4,-0.2,0.5,0.2,-0.3,0.6,0.1,0.3,-0.2,
  0.4,0.1,-0.3,0.2,0.5,0,-0.2,0.3,0.1,-0.3,
  0.2,0,0.4,-0.1,0.1,-0.3,0.2,0,0.3,-0.1,
  0,0.2,-0.2,0.3,0.1,-0.1,0.2,0,-0.2,0.3,
  0.1,0,-0.2,0.2,0
];
const resC5 = [
  0,-3,-8,-12,-14,-10,-4,1,7,12,
  15,14,10,5,2,1,1.5,2,2.5,3,
  3.5,4,4.5,5,5,4.5,3.5,2.5,1.5,1,
  0.5,0,0.5,-0.3,0.3,0.8,0.2,-0.2,0.5,0.3,
  -0.1,0.4,0.2,-0.3,0.3,0.1,0.5,-0.2,0,0.3,
  -0.3,0.2,0,0.3,-0.1,0.2,-0.2,0.4,0,-0.1,
  0.3,0,-0.2,0.2,0.1,0.3,-0.1,0,0.2,-0.2,
  0.1,0.2,-0.1,0,0.2
];
const resD1 = [
  0,-2,-5,-9,-12,-12,-5,2,9,14,
  17,10,2,-4,-4.5,-3,-1,0,1,1,
  0,0,0,0.5,1,1.5,2,2,1.5,1,
  0.5,0,0.3,-0.3,0.2,0.5,-0.2,0,0.3,-0.4,
  0.2,0,-0.3,0.4,0.1,-0.2,0.3,0,-0.3,0.2,
  0.1,-0.2,0.3,0,-0.1,0.2,-0.3,0.1,0.2,-0.1,
  0,0.3,-0.2,0.1,0,-0.2,0.2,0.1,-0.1,0.2,
  0,-0.2,0.1,0.2,0
];
const resD2 = [
  0,-2,-5,-10,-13,-11,-5,1,8,13,
  15,13,10,8,7,6,5,-1,2,3,
  2,0,-1,0,1,2,2.5,2.5,1.5,0.5,
  0,0.3,-0.2,0.4,0,-0.3,0.2,0.5,-0.1,0.2,
  -0.2,0.3,0.1,-0.4,0.2,0,0.3,-0.2,0.1,0,
  0.3,-0.1,0,0.2,-0.3,0.1,0.2,0,-0.2,0.3,
  0.1,-0.2,0,0.2,0.1,-0.1,0.3,0,-0.2,0.1,
  0.2,0,-0.1,0.1,0
];
const resD3 = [
  0,-1,-4,-9,-12,-12,-6,0,7,12,
  16,14,11,9,7,6,5,4,3,2,
  1,-1,-2,-1,0,1,2,3,2,1,
  0,-0.2,0.4,0.1,-0.3,0.3,0,0.4,-0.2,0.1,
  0.3,-0.1,0,0.2,-0.3,0.4,0.1,-0.2,0.2,0,
  -0.1,0.2,0.3,-0.2,0,0.1,-0.3,0.2,0,0.3,
  -0.1,0,0.2,-0.2,0.3,0.1,0,-0.1,0.2,-0.2,
  0.1,0,0.2,-0.1,0
];
const resD4 = [
  0,-2,-4,-8,-11,-13,-7,1,10,15,
  18,15,12,10,8,7,6,5,4,3,
  2,1,0,-0.5,0,1,2,2.5,2,1,
  0.5,0,-0.3,0.2,0.4,-0.1,0.3,0,-0.2,0.4,
  0.1,-0.3,0.2,0,0.3,-0.2,0.1,0.4,-0.1,0,
  0.2,-0.2,0.1,0.3,0,-0.3,0.2,0.1,-0.1,0.2,
  0,0.2,-0.1,0.1,-0.2,0.3,0,0.1,-0.2,0.1,
  0.2,-0.1,0,0.1,-0.1
];
const resD5 = [
  0,-2,-6,-10,-13,-10,-4,3,10,13,
  20,16,12,9,7,5,4,3,2,1,
  0,-1.5,-1,0,1,2,3,3,2,1,
  0,0.4,-0.1,0.2,-0.3,0.3,0.1,-0.2,0.5,0,
  -0.2,0.2,0.4,-0.1,0,0.3,-0.3,0.1,0.2,-0.2,
  0.1,0.3,-0.1,0,0.2,-0.2,0.1,0.3,0,-0.1,
  0.2,-0.1,0.1,0,0.3,-0.2,0,0.2,0.1,-0.1,
  0,0.2,-0.1,0.1,0
];

// Tick values and text
const qTicks = [0, 0.1, 0.2, 0.3, 0.4, 0.5, 0.6, 0.7];
const intensityTicks = [1e-4, 1e-3, 1e-2, 1e-1];
const residualTicksSmall = [-2, -1, 0, 1, 2];
const residualTicksLarge = [-10, 0, 10];
const panelTitles = ['SAXS/WAXS, no RDCS', 'RDCs + SAXS, no WAXS', 'RDCs, no SAXS/WAXS', 'no RDC, no SAXS/WAXS'];
const chiNotes = [
  ['{i|χ}{s|2} =0.089 ±0.005'],
  ['{i|χ}{s|2} (maxQ=0.30) =0.13 ±0.01', '{i|χ}{s|2} (maxQ=0.74) =0.31 ±0.12'],
  ['{i|χ}{s|2} =18.6 ±9.6'],
  ['{i|χ}{s|2} =14.4 ±3.2']
];

// ------------------------------------------------------------------
// Layout and styling
// ------------------------------------------------------------------
const SANS = '"DejaVu Sans", sans-serif';
const SERIF = '"Liberation Serif", "DejaVu Serif", serif';
const Q_MAX = 0.756;
const I_MIN = 1.46e-5, I_MAX = 0.215;
const RES_H = 94, INT_H = 280;
const FIT_COLORS = ['#0000ff', '#008000', '#ff0000', '#00bfbf', '#bf00bf'];
const RED = '#ff0000', GREY = '#808080';

const panelLayout = [
  { left: 88,  top: 56,  width: 494, resRange: [-2.04, 2.0],  resTicks: residualTicksSmall,
    resGap: 32, intGap: 52, title: [323, 28], notes: [[340, 235]] },
  { left: 700, top: 56,  width: 493, resRange: [-2.09, 2.82], resTicks: residualTicksSmall,
    resGap: 32, intGap: 55, title: [931, 22], notes: [[899, 186], [899, 232]] },
  { left: 88,  top: 576, width: 494, resRange: [-19.2, 24.6], resTicks: residualTicksLarge,
    resGap: 44, intGap: 52, title: [299, 541], notes: [[354, 753]] },
  { left: 717, top: 576, width: 494, resRange: [-14.0, 21.3], resTicks: residualTicksLarge,
    resGap: 44, intGap: 54, title: [972, 545], notes: [[980, 753]] }
];

const panelFits = [
  [fitA_b, fitA_g, fitA_r, fitA_c, fitA_m],
  [fitB_b, fitB_g, fitB_r, fitB_c, fitB_m],
  [fitC_b, fitC_g, fitC_r, fitC_c, fitC_m],
  [fitD_b, fitD_g, fitD_r, fitD_c, fitD_m]
];
const panelResiduals = [
  { q: qExp, sets: [resA1, resA2, resA3] },
  { q: qExp, sets: [resB1, resB2, resB3] },
  { q: qFit, sets: [resC1, resC2, resC3, resC4, resC5] },
  { q: qFit, sets: [resD1, resD2, resD3, resD4, resD5] }
];

// minor log ticks (2..9 x 10^k) inside the intensity range
const minorLogTicks = [];
for (let k = -5; k <= -1; k++) {
  for (let m = 2; m <= 9; m++) {
    const v = m * Math.pow(10, k);
    if (v >= I_MIN && v <= I_MAX) minorLogTicks.push(v);
  }
}

const minusSign = v => (v < 0 ? '\u2212' + Math.abs(v) : String(v));

const axisLineStyle = { color: '#000', width: 1.5 };
const tickLineStyle = { color: '#000', width: 1 };

function xAxisCfg(gridIndex, position, withLabels) {
  const cfg = {
    type: 'value', gridIndex, position, min: 0, max: Q_MAX,
    axisLine: { show: true, onZero: false, lineStyle: axisLineStyle },
    axisTick: { show: true, inside: true, length: 7, lineStyle: tickLineStyle, customValues: qTicks },
    axisLabel: { show: withLabels, customValues: qTicks, formatter: v => v.toFixed(1),
                 color: '#000', fontFamily: SANS, fontSize: 18, margin: 7 },
    splitLine: { show: false }
  };
  if (withLabels) {
    cfg.name = '{q|q}{p|(}{a|Å}{s|\u22121}{p|)}';
    cfg.nameLocation = 'middle';
    cfg.nameGap = 30;
    cfg.nameTextStyle = {
      color: '#000',
      rich: {
        q: { fontFamily: SERIF, fontStyle: 'italic', fontSize: 24, color: '#000', verticalAlign: 'bottom', lineHeight: 30 },
        a: { fontFamily: SERIF, fontSize: 24, color: '#000', verticalAlign: 'bottom', lineHeight: 30 },
        p: { fontFamily: SERIF, fontSize: 30, color: '#000', lineHeight: 32 },
        s: { fontFamily: SERIF, fontSize: 16, color: '#000', verticalAlign: 'top', lineHeight: 18 }
      }
    };
  }
  return cfg;
}

function residualAxis(gridIndex, position, lay, withLabels) {
  const cfg = {
    type: 'value', gridIndex, position, offset: 0,
    min: lay.resRange[0], max: lay.resRange[1],
    axisLine: { show: true, onZero: false, lineStyle: axisLineStyle },
    axisTick: { show: true, inside: true, length: 7, lineStyle: tickLineStyle, customValues: lay.resTicks },
    axisLabel: { show: withLabels, customValues: lay.resTicks, formatter: minusSign,
                 color: '#000', fontFamily: SANS, fontSize: 18, margin: 6 },
    splitLine: { show: false }
  };
  if (withLabels) {
    cfg.name = 'Residual';
    cfg.nameLocation = 'middle';
    cfg.nameRotate = 90;
    cfg.nameGap = lay.resGap;
    cfg.nameTextStyle = { color: '#000', fontFamily: SANS, fontSize: 24 };
  }
  return cfg;
}

function intensityAxis(gridIndex, position, lay, withLabels, minor) {
  const ticks = minor ? minorLogTicks : intensityTicks;
  const cfg = {
    type: 'log', logBase: 10, gridIndex, position, offset: 0,
    min: I_MIN, max: I_MAX,
    axisLine: { show: !minor, onZero: false, lineStyle: axisLineStyle },
    axisTick: { show: true, inside: true, length: minor ? 4 : 7, lineStyle: tickLineStyle, customValues: ticks },
    axisLabel: {
      show: withLabels, customValues: intensityTicks, margin: 6,
      formatter: v => {
        const e = Math.round(Math.log10(v));
        return '{b|10}{s|' + minusSign(e) + '}';
      },
      rich: {
        b: { fontFamily: SANS, fontSize: 18, color: '#000', verticalAlign: 'bottom', lineHeight: 24 },
        s: { fontFamily: SANS, fontSize: 13, color: '#000', verticalAlign: 'top', lineHeight: 16 }
      }
    },
    splitLine: { show: false }
  };
  if (withLabels) {
    cfg.name = 'Intensity';
    cfg.nameLocation = 'middle';
    cfg.nameRotate = 90;
    cfg.nameGap = lay.intGap;
    cfg.nameTextStyle = { color: '#000', fontFamily: SANS, fontSize: 24 };
  }
  return cfg;
}

// error bars drawn as vertical segments with caps
function errorBarItem(params, api) {
  const q = api.value(0), I = api.value(1), s = api.value(2);
  const hi = I + s;
  let lo = I - s;
  const clipped = lo <= I_MIN;
  if (clipped) lo = I_MIN;
  const pHi = api.coord([q, hi]);
  const pLo = api.coord([q, lo]);
  const cap = 3.5;
  const style = { stroke: GREY, lineWidth: 3.3 };
  const capStyle = { stroke: GREY, lineWidth: 1.5 };
  const children = [
    { type: 'line', shape: { x1: pHi[0], y1: pHi[1], x2: pLo[0], y2: pLo[1] }, style },
    { type: 'line', shape: { x1: pHi[0] - cap, y1: pHi[1], x2: pHi[0] + cap, y2: pHi[1] }, style: capStyle }
  ];
  if (!clipped) {
    children.push({ type: 'line', shape: { x1: pLo[0] - cap, y1: pLo[1], x2: pLo[0] + cap, y2: pLo[1] }, style: capStyle });
  }
  return { type: 'group', children };
}

// ------------------------------------------------------------------
// Build option
// ------------------------------------------------------------------
const grids = [], xAxes = [], yAxes = [], series = [], graphics = [];

const chiRich = {
  i: { fontFamily: SERIF, fontStyle: 'italic', fontSize: 21, fill: '#000', verticalAlign: 'bottom', lineHeight: 26 },
  s: { fontFamily: SERIF, fontSize: 14, fill: '#000', verticalAlign: 'top', lineHeight: 16 },
  n: { fontFamily: SERIF, fontSize: 21, fill: '#000', verticalAlign: 'bottom', lineHeight: 26 },
  m: { fontFamily: SERIF, fontStyle: 'italic', fontSize: 21, fill: '#000', verticalAlign: 'bottom', lineHeight: 26 }
};
// split a note into rich tokens: plain text -> {n|..}, 'maxQ' -> {m|..}
function richNote(txt) {
  const head = txt.slice(0, txt.indexOf('}{s|2}') + 6);
  const rest = txt.slice(head.length);
  const parts = rest.split('maxQ');
  let out = head;
  parts.forEach((p, i) => {
    if (p.length) out += '{n|' + p + '}';
    if (i < parts.length - 1) out += '{m|maxQ}';
  });
  return out;
}

panelLayout.forEach((lay, k) => {
  const gRes = grids.length;
  grids.push({ left: lay.left, top: lay.top, width: lay.width, height: RES_H, containLabel: false });
  const gInt = grids.length;
  grids.push({ left: lay.left, top: lay.top + RES_H, width: lay.width, height: INT_H, containLabel: false });

  const xRes = xAxes.length;
  xAxes.push(xAxisCfg(gRes, 'bottom', false), xAxisCfg(gRes, 'top', false));
  const xInt = xAxes.length;
  xAxes.push(xAxisCfg(gInt, 'bottom', true), xAxisCfg(gInt, 'top', false));

  const yRes = yAxes.length;
  yAxes.push(residualAxis(gRes, 'left', lay, true), residualAxis(gRes, 'right', lay, false));
  const yInt = yAxes.length;
  yAxes.push(
    intensityAxis(gInt, 'left', lay, true, false),
    intensityAxis(gInt, 'right', lay, false, false),
    intensityAxis(gInt, 'left', lay, false, true),
    intensityAxis(gInt, 'right', lay, false, true)
  );

  // residuals
  const res = panelResiduals[k];
  res.sets.forEach(set => {
    series.push({
      type: 'line', xAxisIndex: xRes, yAxisIndex: yRes, symbol: 'none', clip: true, z: 3,
      data: res.q.map((q, i) => [q, set[i]]).filter(d => d[1] !== undefined),
      lineStyle: { color: RED, width: 1.6 }, silent: true
    });
  });
  // zero reference
  series.push({
    type: 'line', xAxisIndex: xRes, yAxisIndex: yRes, symbol: 'none', z: 5,
    data: [[qExp[0], 0], [qExp[qExp.length - 1], 0]],
    lineStyle: { color: '#000', width: 2, type: [13, 9] }, silent: true
  });

  // measured data with error bars
  series.push({
    type: 'custom', xAxisIndex: xInt, yAxisIndex: yInt, clip: true, z: 1, silent: true,
    data: qExp.map((q, i) => [q, expIntensity[i], expError[i]]),
    encode: { x: 0, y: 1 },
    renderItem: errorBarItem
  });
  series.push({
    type: 'line', xAxisIndex: xInt, yAxisIndex: yInt, symbol: 'none', z: 2, clip: true, silent: true,
    data: qExp.map((q, i) => [q, expIntensity[i]]),
    lineStyle: { color: '#000', width: 2 }
  });

  // back-calculated curves
  panelFits[k].forEach((fit, j) => {
    series.push({
      type: 'line', xAxisIndex: xInt, yAxisIndex: yInt, symbol: 'none', z: 3 + j, clip: true, silent: true,
      smooth: 0.3,
      data: qFit.map((q, i) => [q, Math.pow(10, fit[i])]),
      lineStyle: { color: FIT_COLORS[j], width: 2 }
    });
  });

  // panel title
  graphics.push({
    type: 'text', x: lay.title[0], y: lay.title[1], silent: true,
    style: { text: panelTitles[k], fill: '#000', font: '26px ' + SANS, textAlign: 'center', textVerticalAlign: 'middle' }
  });
  // chi-square notes
  chiNotes[k].forEach((note, n) => {
    graphics.push({
      type: 'text', x: lay.notes[n][0], y: lay.notes[n][1], silent: true,
      style: { text: richNote(note), rich: chiRich, fill: '#000', font: '21px ' + SERIF,
               textAlign: 'left', textVerticalAlign: 'middle' }
    });
  });
});

const option = {
  animation: false,
  backgroundColor: '#ffffff',
  textStyle: { fontFamily: SANS },
  grid: grids,
  xAxis: xAxes,
  yAxis: yAxes,
  series,
  graphic: graphics
};

const chart = echarts.init(document.getElementById('chart'), null, { renderer: 'canvas', width: 1199, height: 1011 });
chart.setOption(option);
</script>
</body>
</html>
